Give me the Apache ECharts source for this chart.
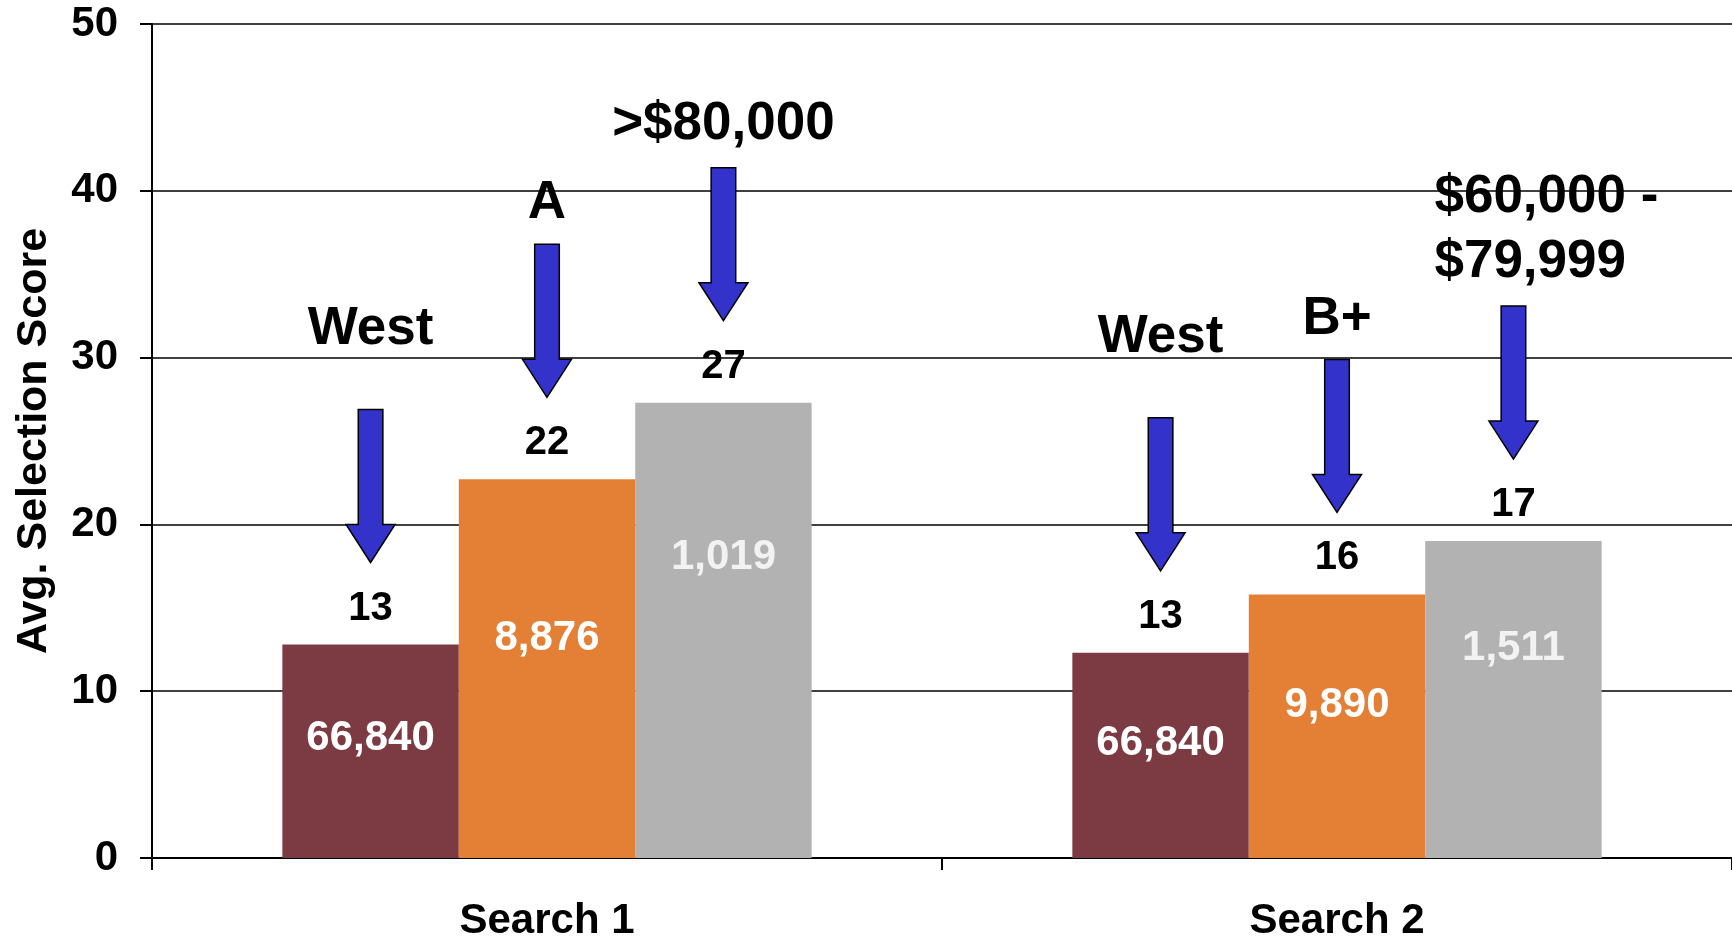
<!DOCTYPE html>
<html>
<head>
<meta charset="utf-8">
<script src="https://cdn.jsdelivr.net/npm/echarts@6/dist/echarts.min.js"></script>
<style>
  html, body { margin: 0; padding: 0; background: #fff; }
  #chart { width: 1732px; height: 940px; }
</style>
</head>
<body>
<div id="chart"></div>
<script>
// ---- data ----
const categories = ['Search 1', 'Search 2'];
const yTicks = { min: 0, max: 50, interval: 10 };

const regionScores = [12.8, 12.3];
const gradeScores = [22.7, 15.8];
const incomeScores = [27.3, 19.0];

const regionScoreLabels = ['13', '13'];
const gradeScoreLabels = ['22', '16'];
const incomeScoreLabels = ['27', '17'];

const regionCounts = ['66,840', '66,840'];
const gradeCounts = ['8,876', '9,890'];
const incomeCounts = ['1,019', '1,511'];

const regionNotes = ['West', 'West'];
const gradeNotes = ['A', 'B+'];
const incomeNotes = ['>$80,000', '$60,000 -\n$79,999'];

// ---- styles ----
const FONT = '"Liberation Sans", Arial, Helvetica, sans-serif';
const colors = ['#7c3a42', '#e38036', '#b2b2b2'];
const countColors = ['#ffffff', '#ffffff', '#f2f2f2'];
const countPos = [['50%', '44%'], ['50%', '42%'], ['50%', '34%']];
const noteGaps = [48, 8, 11];
const CAT_GAP = 0.33;
const MULTILINE_LEFT_SHIFT = 79;

const seriesDefs = [
  { name: 'Region', scores: regionScores, top: regionScoreLabels, counts: regionCounts, notes: regionNotes },
  { name: 'Grade', scores: gradeScores, top: gradeScoreLabels, counts: gradeCounts, notes: gradeNotes },
  { name: 'Income', scores: incomeScores, top: incomeScoreLabels, counts: incomeCounts, notes: incomeNotes }
];

const chart = echarts.init(document.getElementById('chart'), null, { renderer: 'canvas' });

const barSeries = seriesDefs.map((d, i) => ({
  type: 'bar',
  name: d.name,
  data: d.scores,
  barGap: '0%',
  barCategoryGap: (CAT_GAP * 100) + '%',
  itemStyle: { color: colors[i] },
  label: {
    show: true,
    position: countPos[i],
    align: 'center',
    verticalAlign: 'middle',
    formatter: p => d.counts[p.dataIndex],
    color: countColors[i],
    fontFamily: FONT,
    fontWeight: 'bold',
    fontSize: 42
  },
  z: 2
}));

const annoSeries = seriesDefs.map((d, i) => ({
  type: 'custom',
  name: d.name + ' notes',
  data: d.scores.map((v, j) => [j, v]),
  z: 5,
  silent: true,
  renderItem: (params, api) => {
    const idx = params.dataIndex;
    const c = api.coord([api.value(0), api.value(1)]);
    const band = api.size([1, 0])[0];
    const bw = band * (1 - CAT_GAP) / 3;
    const x = c[0] + (i - 1) * bw;
    const topY = c[1];
    const tip = topY - 82;
    const len = 153, headLen = 38, headHalf = 24.5, shaftHalf = 12.3;
    const arrowTop = tip - len;
    const note = d.notes[idx];
    const multi = note.indexOf('\n') >= 0;
    return {
      type: 'group',
      children: [
        {
          type: 'text',
          style: {
            text: d.top[idx], x: x, y: topY - 36,
            align: 'center', verticalAlign: 'middle',
            fill: '#000', font: 'bold 40px ' + FONT
          }
        },
        {
          type: 'polygon',
          shape: {
            points: [
              [x, tip], [x + headHalf, tip - headLen], [x + shaftHalf, tip - headLen],
              [x + shaftHalf, arrowTop], [x - shaftHalf, arrowTop],
              [x - shaftHalf, tip - headLen], [x - headHalf, tip - headLen]
            ]
          },
          style: { fill: '#3333cc', stroke: '#000', lineWidth: 1.5 }
        },
        {
          type: 'text',
          style: {
            text: note,
            x: multi ? x - MULTILINE_LEFT_SHIFT : x,
            y: arrowTop - noteGaps[i],
            align: multi ? 'left' : 'center', verticalAlign: 'bottom',
            lineHeight: 65,
            fill: '#000', font: 'bold 53px ' + FONT
          }
        }
      ]
    };
  }
}));

chart.setOption({
  animation: false,
  backgroundColor: '#ffffff',
  grid: { left: 152, right: 0, top: 24, bottom: 82, containLabel: false, outerBoundsMode: 'none' },
  xAxis: {
    type: 'category',
    data: categories,
    axisLine: { show: true, lineStyle: { color: '#000', width: 2 } },
    axisTick: { show: true, alignWithLabel: false, length: 12, lineStyle: { color: '#000', width: 2 } },
    axisLabel: { color: '#000', fontFamily: FONT, fontWeight: 'bold', fontSize: 42, margin: 42 },
    splitLine: { show: false }
  },
  yAxis: {
    type: 'value',
    min: yTicks.min, max: yTicks.max, interval: yTicks.interval,
    name: 'Avg. Selection Score',
    nameLocation: 'middle',
    nameGap: 96,
    nameRotate: 90,
    nameTextStyle: { color: '#000', fontFamily: FONT, fontWeight: 'bold', fontSize: 43 },
    axisLine: { show: true, lineStyle: { color: '#000', width: 2 } },
    axisTick: { show: true, inside: false, length: 12, lineStyle: { color: '#000', width: 2 } },
    axisLabel: { color: '#000', fontFamily: FONT, fontWeight: 'bold', fontSize: 42, margin: 34, padding: [12, 0, 0, 0] },
    splitLine: { show: true, lineStyle: { color: '#000', width: 1.5 } }
  },
  series: barSeries.concat(annoSeries)
});
</script>
</body>
</html>
